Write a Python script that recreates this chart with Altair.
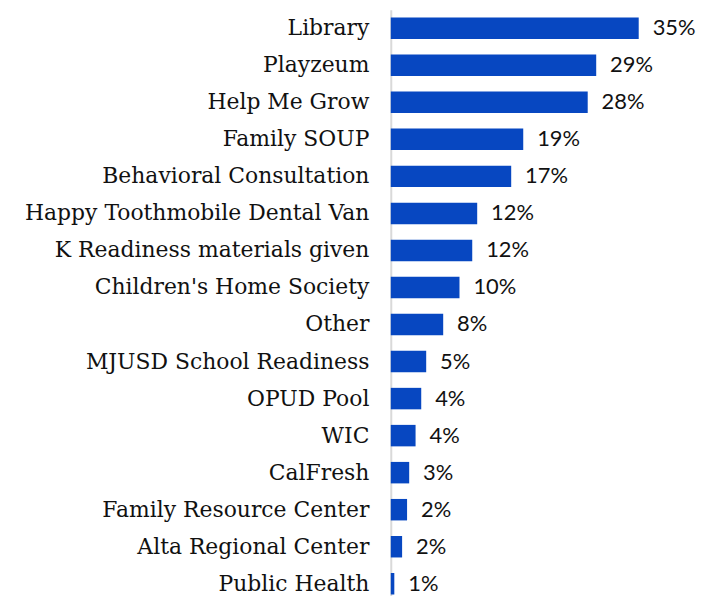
import altair as alt
import pandas as pd

categories = [
    "Library", "Playzeum", "Help Me Grow", "Family SOUP ", "Behavioral Consultation",
    "Happy Toothmobile Dental Van", "K Readiness materials given", "Children's Home Society",
    "Other", "MJUSD School Readiness", "OPUD Pool", "WIC", "CalFresh",
    "Family Resource Center", "Alta Regional Center", "Public Health",
]
values = [35.0, 29.0, 27.8, 18.7, 17.0, 12.2, 11.5, 9.7, 7.4, 5.0, 4.3, 3.5, 2.6, 2.3, 1.6, 0.5]
labels = ["35%", "29%", "28%", "19%", "17%", "12%", "12%", "10%", "8%", "5%", "4%", "4%",
          "3%", "2%", "2%", "1%"]

df = pd.DataFrame({"cat": categories, "val": values, "lab": labels})

y = alt.Y("cat:N", sort=categories, title=None,
          scale=alt.Scale(paddingInner=0.42, paddingOuter=0.21),
          axis=alt.Axis(labelFont="DejaVu Serif", labelFontSize=22, labelColor="#111111",
                        labelPadding=22, ticks=False, tickSize=0, domainColor="#d9d9d9",
                        domainWidth=2, labelLimit=420, grid=False))
x = alt.X("val:Q", title=None, axis=None, scale=alt.Scale(domain=[0, 40], nice=False))

bars = alt.Chart(df).mark_bar(color="#0747C1").encode(x=x, y=y)
text = alt.Chart(df).mark_text(align="left", baseline="middle", dx=14, font="Lato",
                               fontSize=22, color="#111111").encode(x=x, y=y, text="lab:N")

chart = (bars + text).properties(
    width=285, height=596,
    background="white",
    autosize=alt.AutoSizeParams(type="none"),
    padding={"left": 385, "right": 22, "top": 0, "bottom": 0},
).configure_view(stroke=None)

chart.save("out.html", embed_options={"renderer": "svg", "actions": False})
